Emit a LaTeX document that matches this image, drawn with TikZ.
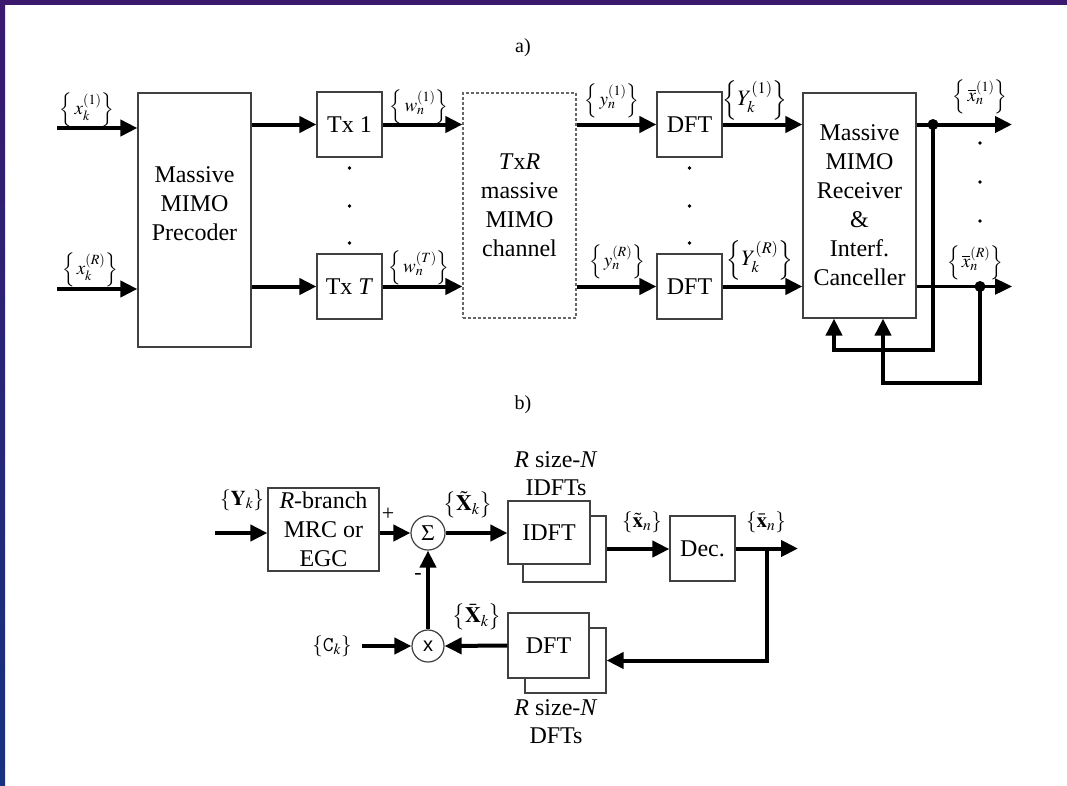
\documentclass[tikz,border=0pt]{standalone}
\usepackage{mathptmx}
\usepackage{fontspec}
\setmainfont{Liberation Serif}
\setsansfont{Liberation Sans}
\usetikzlibrary{arrows.meta, calc}

\definecolor{slidetop}{RGB}{58,25,110}
\definecolor{slidebot}{RGB}{22,50,128}

\begin{document}
\begin{tikzpicture}[
  x=1pt, y=-1pt,
  blk/.style={draw=black!75, line width=1.2pt, fill=white, align=center, inner sep=0pt,
    minimum width=65pt, minimum height=65pt, font=\fontsize{24}{29}\selectfont},
  bigblk/.style={blk, minimum width=113pt, minimum height=225pt},
  chan/.style={bigblk, draw=black!60, dash pattern=on 3pt off 2pt},
  backblk/.style={blk, minimum width=82pt, minimum height=65pt},
  opnode/.style={circle, draw=black!75, line width=1.2pt, fill=white, inner sep=0pt,
    minimum size=34pt, font=\fontsize{22}{26}\selectfont},
  sig/.style={font=\fontsize{19}{23}\selectfont, inner sep=0pt},
  bigsig/.style={font=\fontsize{22}{26}\selectfont, inner sep=0pt},
  panel/.style={font=\fontsize{20}{24}\selectfont, align=center, inner sep=0pt},
  flow/.style={-{Triangle[length=17pt, width=16pt]}, line width=4pt},
  thinflow/.style={flow, line width=2.4pt}
]
\useasboundingbox (0,0) rectangle (1067,785);

% --- slide frame ---
\fill[white] (0,0) rectangle (1067,785);
\shade[top color=slidetop, bottom color=slidebot] (0,0) rectangle (5,785);
\fill[slidetop] (0,0) rectangle (1067,5);

% ===================== a) transmitter / receiver chain =====================
\node[panel] (tita) at (523,48) {a)};

\node[bigblk, minimum height=254pt, text depth=32pt] (pre) at (194.5,220) {Massive\\MIMO\\Precoder};
\node[blk] (tx1) at (349.5,124.5) {Tx 1};
\node[blk] (txT) at (349.5,286.5) {Tx \textit{T}};
\node[chan] (ch) at (519.5,205.5) {\textit{T}x\textit{R}\\massive\\MIMO\\channel};
\node[blk] (dft1) at (689.5,124.5) {DFT};
\node[blk] (dftR) at (689.5,286.5) {DFT};
\node[bigblk] (rx) at (859.5,205.5) {Massive\\MIMO\\Receiver\\\&\\Interf.\\Canceller};

% dots between the branches
\foreach \y in {168,206,243} {
  \fill (349.5,\y) circle (1.8);
  \fill (689.5,\y) circle (1.8);
}
\foreach \y in {143,182,221}
  \fill (980,\y) circle (1.8);

% inputs
\coordinate (in1) at (57,128);
\coordinate (inR) at (57,289);
\draw[flow] (in1) -- (pre.west |- in1);
\draw[flow] (inR) -- (pre.west |- inR);
\node[sig] (lx1) at (87,110) {$\left\{\,x_k^{(1)}\right\}$};
\node[sig] (lxR) at (90,270) {$\left\{\,x_k^{(R)}\right\}$};

% precoder -> Tx -> channel -> DFT -> receiver
\draw[flow] (pre.east |- tx1.west) -- (tx1.west);
\draw[flow] (pre.east |- txT.west) -- (txT.west);
\draw[flow] (tx1.east) -- (ch.west |- tx1.east);
\draw[flow] (txT.east) -- (ch.west |- txT.east);
\draw[flow] (ch.east |- dft1.west) -- (dft1.west);
\draw[flow] (ch.east |- dftR.west) -- (dftR.west);
\draw[flow] (dft1.east) -- (rx.west |- dft1.east);
\draw[flow] (dftR.east) -- (rx.west |- dftR.east);

\node[sig] (lw1) at (419,107) {$\left\{\,w_n^{(1)}\right\}$};
\node[sig] (lwT) at (419,268) {$\left\{\,w_n^{(T)}\right\}$};
\node[sig] (ly1) at (612,101) {$\left\{\,y_n^{(1)}\right\}$};
\node[sig] (lyR) at (617,262) {$\left\{\,y_n^{(R)}\right\}$};
\node[bigsig] (lY1) at (755,100) {$\left\{Y_k^{(1)}\right\}$};
\node[bigsig] (lYR) at (760,260) {$\left\{Y_k^{(R)}\right\}$};

% receiver outputs and feedback
\coordinate (out1) at (1012,124.5);
\coordinate (outR) at (1012,286.5);
\coordinate (j1) at (933,124.5);
\coordinate (j2) at (980,286.5);
\coordinate (fb1) at (834,350);
\coordinate (fb2) at (883,383);
\draw[flow] (rx.east |- out1) -- (out1);
\draw[thinflow] (rx.east |- outR) -- (outR);
\draw[flow] (j1) |- (fb1) -- (fb1 |- rx.south);
\draw[flow] (j2) |- (fb2) -- (fb2 |- rx.south);
\fill (j1) circle (5.5);
\fill (j2) circle (5.5);
\node[sig] (lo1) at (980,97) {$\left\{\,\overline{x}_n^{(1)}\right\}$};
\node[sig] (loR) at (975,263) {$\left\{\,\overline{x}_n^{(R)}\right\}$};

% ===================== b) iterative receiver =====================
\node[panel] (titb) at (523,405) {b)};

\node[blk, minimum width=111pt, minimum height=83pt] (mrc) at (323.5,529.5)
  {\textit{R}-branch\\MRC or\\EGC};
\node[opnode] (sum) at (428,533) {$\Sigma$};
\node[opnode, minimum size=32pt, font=\fontsize{20}{24}\sffamily] (mul) at (428,646) {x};

% stacked IDFT / DFT banks
\node[backblk, minimum width=83pt, minimum height=66pt] (idftb) at (564.5,549) {};
\node[backblk, minimum height=63pt] (idft) at (549,532.5) {IDFT};
\node[backblk, minimum width=81pt] (dftb) at (565.5,660.5) {};
\node[backblk, minimum width=81pt] (dft) at (548.5,645.5) {DFT};
\node[panel, font=\fontsize{24}{28}\selectfont] (nidft) at (556,474) {\textit{R} size-\textit{N}\\IDFTs};
\node[panel, font=\fontsize{24}{28}\selectfont] (ndft) at (556,722) {\textit{R} size-\textit{N}\\DFTs};

\node[blk] (dec) at (702.5,548.5) {Dec.};

% connectors
\coordinate (inY) at (215,533);
\coordinate (inC) at (362,646);
\coordinate (outx) at (798,548.5);
\coordinate (j3) at (767,548.5);
\draw[flow] (inY) -- (mrc.west |- inY);
\draw[flow] (mrc.east |- sum.west) -- (sum.west);
\draw[flow] (sum.east) -- (idft.west |- sum.east);
\draw[flow] (idftb.east) -- (dec.west |- idftb.east);
\draw[flow] (dec.east) -- (outx);
\draw[flow] (j3) |- (dftb.east);
\draw[flow] (dft.west) -- (mul.east);
\draw[flow] (inC) -- (mul.west);
\draw[flow] (mul.north) -- (sum.south);

\node[sig, font=\fontsize{21}{25}\selectfont] (lY) at (242,500) {$\left\{\mathbf{Y}_k\right\}$};
\node[sig, font=\fontsize{22}{26}\selectfont] (lplus) at (388,514) {+};
\node[sig, font=\fontsize{22}{26}\selectfont] (lminus) at (418,576) {-};
\node[bigsig] (lXt) at (468,505) {$\left\{\tilde{\mathbf{X}}_k\right\}$};
\node[sig, font=\fontsize{21}{25}\selectfont] (lxt) at (642,522) {$\left\{\tilde{\mathbf{x}}_n\right\}$};
\node[sig, font=\fontsize{21}{25}\selectfont] (lxb) at (766,522) {$\left\{\bar{\mathbf{x}}_n\right\}$};
\node[bigsig] (lXb) at (477,617) {$\left\{\bar{\mathbf{X}}_k\right\}$};
\node[sig, font=\fontsize{21}{25}\selectfont] (lC) at (332,646) {$\left\{\texttt{C}_k\right\}$};

\end{tikzpicture}
\end{document}
